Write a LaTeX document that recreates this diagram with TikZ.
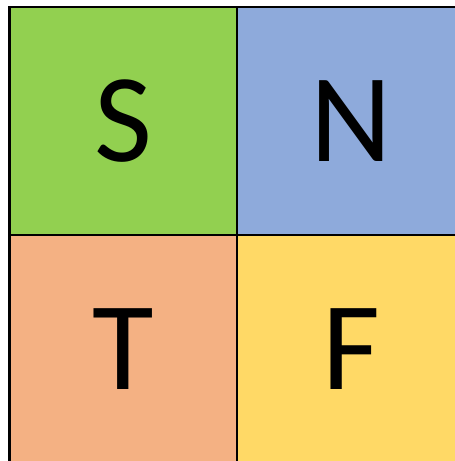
\documentclass[tikz,border=0pt]{standalone}
\usepackage{fontspec}
\setmainfont{Carlito}
\definecolor{sgreen}{RGB}{146,208,80}
\definecolor{nblue}{RGB}{142,170,219}
\definecolor{torange}{RGB}{244,177,131}
\definecolor{fyellow}{RGB}{255,217,102}
\begin{document}
\begin{tikzpicture}[x=1pt, y=1pt]
        \tikzstyle{cell} = [rectangle, draw, line width=2.5pt, minimum size=228pt, inner sep=0pt, font=\fontsize{126}{126}\selectfont]

        \clip (0,0) rectangle (455,461);

        \node [cell, fill=sgreen]  (S) at (123.5,340) {S};
        \node [cell, fill=nblue]   (N) at (351,340)   {N};
        \node [cell, fill=torange] (T) at (123.5,112) {T};
        \node [cell, fill=fyellow] (F) at (351,112)   {F};
    \end{tikzpicture}
\end{document}
